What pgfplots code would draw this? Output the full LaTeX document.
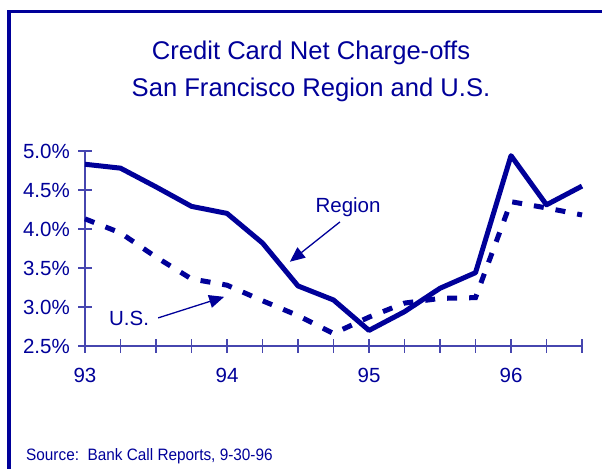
\documentclass[border=0pt]{standalone}
\usepackage{pgfplots}
\pgfplotsset{compat=1.18}
\usetikzlibrary{arrows.meta}
\usepackage{fontspec}
\setmainfont{Liberation Sans}
\definecolor{navy}{RGB}{0,0,153}
\definecolor{axblue}{RGB}{70,70,175}
\pgfplotstableread{
x y
0 4.83
1 4.78
2 4.54
3 4.29
4 4.20
5 3.82
6 3.27
7 3.09
8 2.70
9 2.94
10 3.24
11 3.44
12 4.94
13 4.31
14 4.55
}\region
\pgfplotstableread{
x y
0 4.13
1 3.95
2 3.64
3 3.36
4 3.28
5 3.08
6 2.89
7 2.66
8 2.87
9 3.05
10 3.11
11 3.12
12 4.35
13 4.27
14 4.18
}\us
\begin{document}
\begin{tikzpicture}[x=1bp,y=1bp]
\useasboundingbox (0,0) rectangle (602,469);
% frame
\draw[navy, line width=3.5bp] (9,0) -- (9,457.5) -- (602,457.5);
% title
\node[navy, anchor=base, font=\fontsize{25.6bp}{30bp}\selectfont] at (311,409) {Credit Card Net Charge-offs};
\node[navy, anchor=base, font=\fontsize{25.6bp}{30bp}\selectfont] at (311,372) {San Francisco Region and U.S.};
% source
\node[navy, anchor=base west, inner sep=0pt, font=\fontsize{16.5bp}{19bp}\selectfont] at (26,8) {\scalebox{0.93}[1]{Source:\ \ Bank Call Reports, 9-30-96}};
\begin{axis}[
  at={(85bp,123bp)}, anchor=south west,
  scale only axis, width=497bp, height=195bp,
  xmin=0, xmax=14, ymin=2.5, ymax=5,
  clip=false,
  axis x line=bottom, axis y line=left,
  axis line style={axblue, line width=1.3bp, -},
  tick style={axblue, line width=1.3bp},
  tick align=center, major tick length=14bp,
  xtick={0,...,14},
  xticklabels={93,,,,94,,,,95,,,,96,,},
  ytick={2.5,3,3.5,4,4.5,5},
  yticklabels={2.5\%,3.0\%,3.5\%,4.0\%,4.5\%,5.0\%},
  ticklabel style={navy, font=\fontsize{20.5bp}{24bp}\selectfont},
  xticklabel style={anchor=base, yshift=-30bp, inner sep=0pt},
  yticklabel style={anchor=east, inner sep=0pt, xshift=-8bp},
]
\addplot[navy, line width=5bp, line join=round, no markers] table[x=x,y=y] {\region};
\addplot[navy, line width=5bp, dash pattern=on 10bp off 12bp, no markers] table[x=x,y=y] {\us};
\node[navy, font=\fontsize{20.5bp}{24bp}\selectfont] at (axis cs:7.41,4.28) {Region};
\node[navy, font=\fontsize{20.5bp}{24bp}\selectfont] at (axis cs:1.24,2.85) {U.S.};
\draw[navy, line width=1.3bp, -{Triangle[length=15bp,width=13bp]}] (axis cs:7.18,4.09) -- (axis cs:5.77,3.58);
\draw[navy, line width=1.3bp, -{Triangle[length=15bp,width=13bp]}] (axis cs:2.06,2.86) -- (axis cs:3.92,3.13);
\end{axis}
\end{tikzpicture}
\end{document}
